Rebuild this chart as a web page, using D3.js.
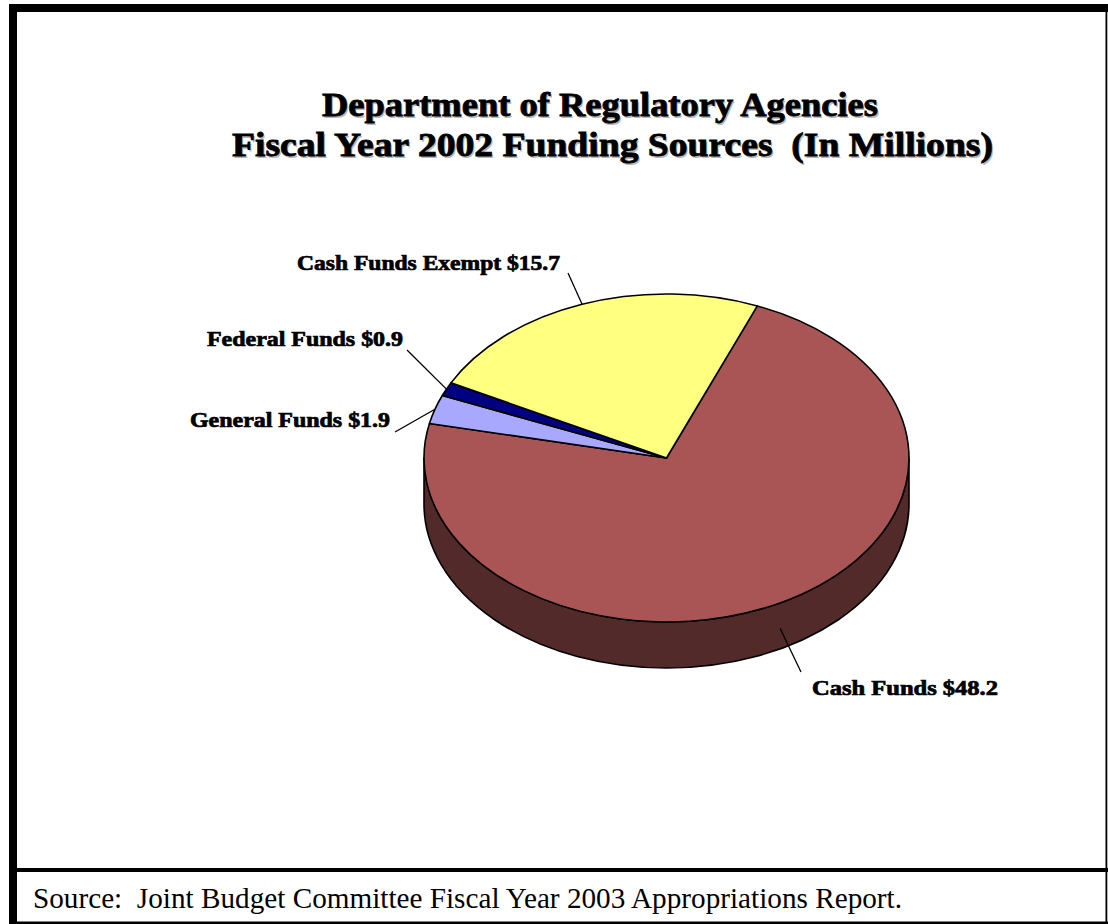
<!DOCTYPE html>
<html>
<head>
<meta charset="utf-8">
<script src="https://cdn.jsdelivr.net/npm/d3@7"></script>
<style>
  html, body { margin: 0; padding: 0; background: #fff; }
  svg { display: block; }
  text { white-space: pre; }
</style>
</head>
<body>
<svg id="chart" width="1108" height="924"></svg>
<script>
// Funding sources, in clockwise drawing order
const categories = ["Cash Funds", "General Funds", "Federal Funds", "Cash Funds Exempt"];
const values = [48.2, 1.9, 0.9, 15.7];
const labels = ["Cash Funds $48.2", "General Funds $1.9", "Federal Funds $0.9", "Cash Funds Exempt $15.7"];
const titleLines = ["Department of Regulatory Agencies", "Fiscal Year 2002 Funding Sources  (In Millions)"];
const sourceNote = "Source:  Joint Budget Committee Fiscal Year 2003 Appropriations Report.";

const topColors = d3.scaleOrdinal()
  .domain(categories)
  .range(["#AA5555", "#A8A8FF", "#000080", "#FFFF80"]);

const svg = d3.select("#chart");
const W = 1108, H = 924;

// ---- frame ----
const frame = svg.append("g");
frame.append("rect").attr("x", 9).attr("y", 4).attr("width", W - 9).attr("height", 8).attr("fill", "#000");
frame.append("rect").attr("x", 9).attr("y", 4).attr("width", 8).attr("height", H - 4).attr("fill", "#000");
frame.append("rect").attr("x", 1105.5).attr("y", 4).attr("width", 1.8).attr("height", H - 4).attr("fill", "#000");
frame.append("rect").attr("x", 9).attr("y", 868).attr("width", W - 9).attr("height", 4).attr("fill", "#000");
frame.append("rect").attr("x", 9).attr("y", 921.5).attr("width", W - 9).attr("height", 2.5).attr("fill", "#000");

// ---- title ----
const titleLayout = [
  { x: 322, y: 116, len: 556 },
  { x: 232, y: 156, len: 761 }
];
const titleG = svg.append("g")
  .attr("font-family", "'Liberation Serif', 'Times New Roman', serif")
  .attr("font-weight", "bold")
  .attr("font-size", 33);
titleLines.forEach((t, i) => {
  const L = titleLayout[i];
  titleG.append("text")
    .attr("x", L.x + 1.5).attr("y", L.y + 1.5)
    .attr("textLength", L.len).attr("lengthAdjust", "spacingAndGlyphs")
    .attr("fill", "#9a9a9a").attr("opacity", 0.7)
    .text(t);
  titleG.append("text")
    .attr("x", L.x).attr("y", L.y)
    .attr("textLength", L.len).attr("lengthAdjust", "spacingAndGlyphs")
    .attr("fill", "#000").attr("stroke", "#000").attr("stroke-width", 0.8)
    .text(t);
});

// ---- 3D pie ----
const cx = 666.5, cy = 458, rx = 242.5, ry = 164, depth = 46;
const start = 22 * Math.PI / 180;
const pie = d3.pie().sort(null).startAngle(start).endAngle(start + 2 * Math.PI);
const arcs = pie(values).map((a, i) => ({ ...a, category: categories[i], label: labels[i] }));

const pt = (a, dz = 0) => [cx + rx * Math.sin(a), cy - ry * Math.cos(a) + dz];
const fmt = p => `${p[0].toFixed(2)},${p[1].toFixed(2)}`;

function topPath(d) {
  const p0 = pt(d.startAngle), p1 = pt(d.endAngle);
  const large = d.endAngle - d.startAngle > Math.PI ? 1 : 0;
  return `M${cx},${cy}L${fmt(p0)}A${rx},${ry} 0 ${large} 1 ${fmt(p1)}Z`;
}

// Portions of the rim that face the viewer (lower half of the ellipse)
function sideSegments(d) {
  const segs = [];
  for (let k = 0; k <= 1; k++) {
    const lo = Math.PI / 2 + k * 2 * Math.PI, hi = 3 * Math.PI / 2 + k * 2 * Math.PI;
    const s = Math.max(d.startAngle, lo), e = Math.min(d.endAngle, hi);
    if (e > s) segs.push([s, e]);
  }
  return segs;
}
function sidePath([s, e]) {
  const m = (s + e) / 2;
  return `M${fmt(pt(s))}A${rx},${ry} 0 0 1 ${fmt(pt(m))}A${rx},${ry} 0 0 1 ${fmt(pt(e))}` +
         `L${fmt(pt(e, depth))}A${rx},${ry} 0 0 0 ${fmt(pt(m, depth))}A${rx},${ry} 0 0 0 ${fmt(pt(s, depth))}Z`;
}

const pieG = svg.append("g").attr("stroke", "#000").attr("stroke-width", 1.6).attr("stroke-linejoin", "round");

arcs.forEach(d => {
  sideSegments(d).forEach(seg => {
    pieG.append("path")
      .attr("d", sidePath(seg))
      .attr("fill", d3.color(topColors(d.category)).darker(2).formatHex());
  });
});
pieG.selectAll("path.top")
  .data(arcs)
  .join("path")
  .attr("class", "top")
  .attr("d", topPath)
  .attr("fill", d => topColors(d.category));

// ---- labels and leader lines ----
const labelLayout = {
  "Cash Funds":        { end: [801, 672], tx: 812, ty: 695, len: 186, drop: 0.55 },
  "General Funds":     { end: [395, 432], tx: 190, ty: 427, len: 200, drop: 0 },
  "Federal Funds":     { end: [407, 350], tx: 207, ty: 346, len: 196, drop: 0 },
  "Cash Funds Exempt": { end: [568, 273], tx: 297, ty: 270, len: 263, drop: 0 }
};

const labelG = svg.append("g")
  .attr("font-family", "'Liberation Serif', 'Times New Roman', serif")
  .attr("font-weight", "bold")
  .attr("font-size", 20);

arcs.forEach(d => {
  const L = labelLayout[d.category];
  const mid = (d.startAngle + d.endAngle) / 2;
  const anchor = pt(mid, depth * L.drop);
  labelG.append("line")
    .attr("x1", anchor[0]).attr("y1", anchor[1])
    .attr("x2", L.end[0]).attr("y2", L.end[1])
    .attr("stroke", "#000").attr("stroke-width", 1.3);
  labelG.append("text")
    .attr("x", L.tx).attr("y", L.ty)
    .attr("textLength", L.len).attr("lengthAdjust", "spacingAndGlyphs")
    .attr("fill", "#000").attr("stroke", "#000").attr("stroke-width", 0.7)
    .text(d.label);
});

// ---- source note ----
svg.append("text")
  .attr("x", 33).attr("y", 908)
  .attr("font-family", "'Liberation Serif', 'Times New Roman', serif")
  .attr("font-size", 29)
  .attr("textLength", 869).attr("lengthAdjust", "spacingAndGlyphs")
  .attr("fill", "#000")
  .text(sourceNote);
</script>
</body>
</html>
